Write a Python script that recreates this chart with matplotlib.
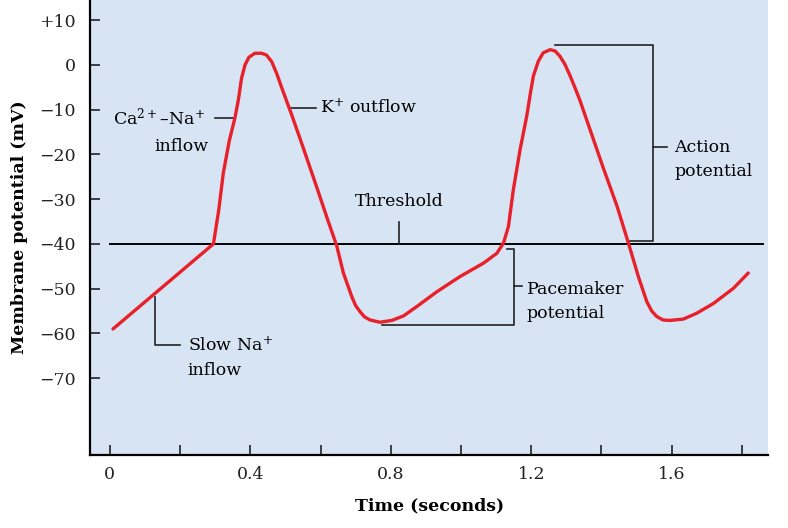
import matplotlib.pyplot as plt
import numpy as np

plt.rcParams['font.family'] = ['DejaVu Serif']
plt.rcParams['mathtext.fontset'] = 'dejavuserif'
plt.rcParams['axes.unicode_minus'] = True

# membrane potential trace
time_s = [0.009, 0.295, 0.310, 0.323, 0.340, 0.356, 0.366, 0.375, 0.385, 0.396,
          0.413, 0.432, 0.446, 0.461, 0.475, 0.489, 0.503, 0.518, 0.551, 0.589,
          0.622, 0.646, 0.665, 0.689, 0.700, 0.712, 0.725, 0.741, 0.769, 0.803,
          0.836, 0.874, 0.931, 0.997, 1.064, 1.102, 1.121, 1.135, 1.149, 1.168,
          1.187, 1.197, 1.206, 1.220, 1.234, 1.254, 1.268, 1.282, 1.296, 1.311,
          1.325, 1.339, 1.353, 1.368, 1.405, 1.444, 1.477, 1.505, 1.529, 1.543,
          1.557, 1.575, 1.595, 1.633, 1.671, 1.719, 1.776, 1.818]
potential_mv = [-59.0, -40.0, -32.5, -24.2, -17.0, -11.9, -7.8, -3.0, 0.0, 1.7,
                2.6, 2.6, 2.2, 0.7, -1.9, -5.0, -8.0, -11.2, -18.6, -27.3,
                -35.0, -40.4, -46.5, -51.8, -53.8, -55.1, -56.3, -57.0, -57.5, -57.1,
                -56.1, -54.0, -50.7, -47.3, -44.3, -42.1, -39.8, -36.1, -27.9, -19.0,
                -11.5, -6.6, -2.5, 0.8, 2.7, 3.4, 3.1, 1.9, 0.1, -2.5,
                -5.2, -8.0, -11.2, -14.6, -23.0, -31.5, -39.9, -47.3, -52.9, -55.0,
                -56.2, -57.0, -57.1, -56.8, -55.5, -53.3, -49.9, -46.5]

threshold_mv = -40
y_ticks = [10, 0, -10, -20, -30, -40, -50, -60, -70]
y_labels = ['+10', '0', '\u221210', '\u221220', '\u221230', '\u221240', '\u221250', '\u221260', '\u221270']
x_major = [0, 0.4, 0.8, 1.2, 1.6]
x_minor = [0.2, 0.6, 1.0, 1.4, 1.8]

fig = plt.figure(figsize=(7.88, 5.28), dpi=100)
ax = fig.add_axes([0.114, 0.138, 0.861, 0.862])
ax.set_facecolor('#d7e4f4')
ax.set_xlim(-0.057, 1.875)
ax.set_ylim(-87.2, 14.5)

ax.plot(time_s, potential_mv, color='#e8202a', lw=2.4, solid_capstyle='round',
        solid_joinstyle='round', zorder=3)

# threshold line
ax.plot([0, 1.86], [threshold_mv, threshold_mv], color='black', lw=1.4, zorder=2)

lc = '#222222'
lw = 1.2
fs = 12.5

# threshold label
ax.plot([0.823, 0.823], [-35, -40], color=lc, lw=lw)
ax.text(0.823, -30.6, 'Threshold', ha='center', va='center', fontsize=fs)

# Ca-Na inflow
ax.plot([0.299, 0.350], [-11.8, -11.8], color=lc, lw=lw)
ax.text(0.272, -11.8, 'Ca$^{2+}$\u2013Na$^{+}$', ha='right', va='center', fontsize=fs)
ax.text(0.280, -18.2, 'inflow', ha='right', va='center', fontsize=fs)

# K outflow
ax.plot([0.513, 0.587], [-9.6, -9.6], color=lc, lw=lw)
ax.text(0.598, -9.6, 'K$^{+}$ outflow', ha='left', va='center', fontsize=fs)

# slow Na inflow
ax.plot([0.128, 0.128, 0.199], [-51.8, -62.6, -62.6], color=lc, lw=lw)
ax.text(0.222, -62.6, 'Slow Na$^{+}$', ha='left', va='center', fontsize=fs)
ax.text(0.222, -68.2, 'inflow', ha='left', va='center', fontsize=fs)

# pacemaker bracket
ax.plot([1.130, 1.151, 1.151, 0.774], [-41.1, -41.1, -58.1, -58.1], color=lc, lw=lw)
ax.plot([1.151, 1.173], [-49.5, -49.5], color=lc, lw=lw)
ax.text(1.187, -50.2, 'Pacemaker', ha='left', va='center', fontsize=fs)
ax.text(1.187, -55.6, 'potential', ha='left', va='center', fontsize=fs)

# action potential bracket
ax.plot([1.268, 1.546, 1.546, 1.481], [4.5, 4.5, -39.3, -39.3], color=lc, lw=lw)
ax.plot([1.546, 1.586], [-18.4, -18.4], color=lc, lw=lw)
ax.text(1.607, -18.4, 'Action', ha='left', va='center', fontsize=fs)
ax.text(1.607, -23.9, 'potential', ha='left', va='center', fontsize=fs)

ax.spines['top'].set_visible(False)
ax.spines['right'].set_visible(False)
ax.spines['left'].set_linewidth(1.6)
ax.spines['bottom'].set_linewidth(1.6)

ax.set_yticks(y_ticks)
ax.set_yticklabels(y_labels)
ax.set_xticks(x_major)
ax.set_xticklabels(['0', '0.4', '0.8', '1.2', '1.6'])
ax.set_xticks(x_minor, minor=True)
ax.tick_params(axis='both', which='both', direction='in', length=7, width=1.2,
               labelsize=12.5, colors='#222222')
ax.tick_params(axis='y', pad=10)
ax.tick_params(axis='x', pad=8)

ax.set_xlabel('Time (seconds)', fontsize=12.5, fontweight='bold', labelpad=10)
ax.set_ylabel('Membrane potential (mV)', fontsize=12.5, fontweight='bold', labelpad=8)

fig.savefig('out.png', dpi=100)
